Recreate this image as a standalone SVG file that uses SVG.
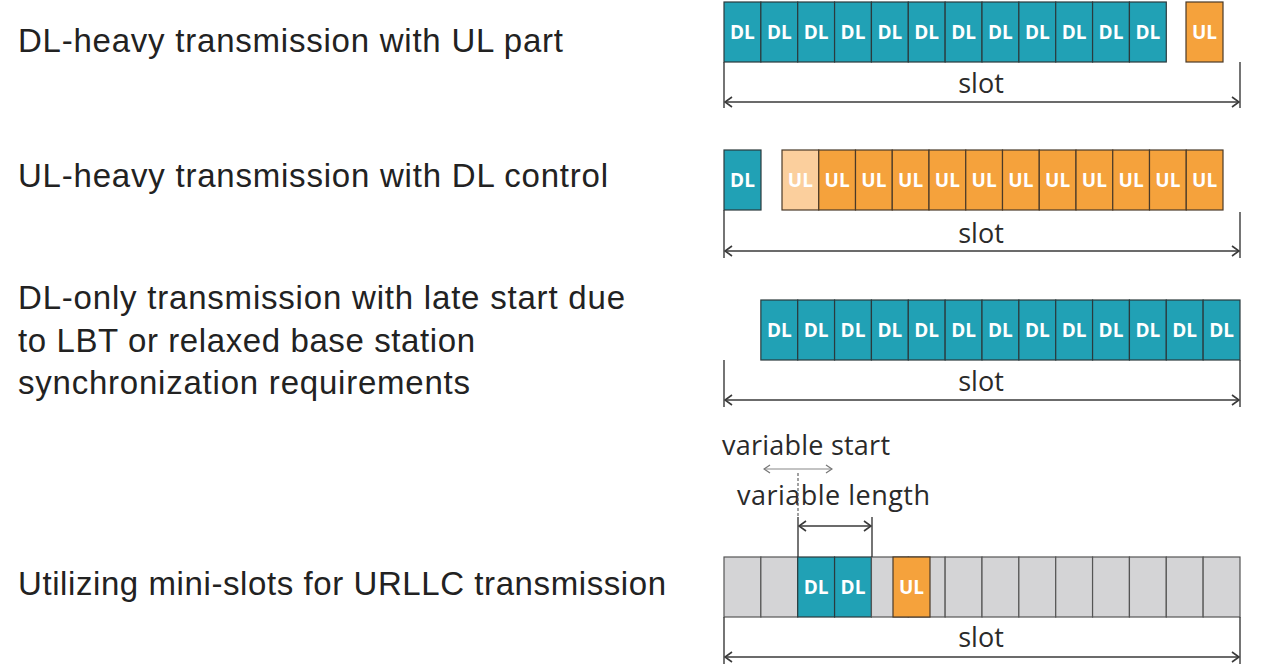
<svg xmlns="http://www.w3.org/2000/svg" width="1272" height="672" viewBox="0 0 1272 672">
<style>
.dl{fill:#21a1b5;stroke:#2b3a3d;stroke-width:1.2}
.ul{fill:#f5a23c;stroke:#4a3a28;stroke-width:1.2}
.ull{fill:#fbcf9d;stroke:#4a3a28;stroke-width:1.2}
.gr{fill:#d4d4d6;stroke:#555;stroke-width:1.2}
.lb{font-family:"Open Sans","Liberation Sans",sans-serif;font-weight:bold;font-size:19px;fill:#fff;text-anchor:middle}
.desc{font-family:"Liberation Sans","Open Sans",sans-serif;font-size:33px;fill:#222}
.ann{font-family:"Open Sans","Liberation Sans",sans-serif;font-size:27px;fill:#2a2a2a}
.slot{font-family:"Open Sans","Liberation Sans",sans-serif;font-size:27px;fill:#2a2a2a;text-anchor:middle}
.br{stroke:#3a3a3a;stroke-width:1.4;fill:none}
.tick{stroke:#3a3a3a;stroke-width:1.4}
.thin{stroke:#888;stroke-width:1.1;fill:none}
</style>
<defs>
<marker id="ah" viewBox="-9 -6 10 12" markerWidth="10" markerHeight="12" refX="0" refY="0" orient="auto-start-reverse" markerUnits="userSpaceOnUse">
<path d="M-7,-5 L0,0 L-7,5" fill="none" stroke="#3a3a3a" stroke-width="1.6"/>
</marker>
<marker id="ahs" viewBox="-9 -6 10 12" markerWidth="10" markerHeight="12" refX="0" refY="0" orient="auto-start-reverse" markerUnits="userSpaceOnUse">
<path d="M-6,-4 L0,0 L-6,4" fill="none" stroke="#777" stroke-width="1.3"/>
</marker>
</defs>
<rect width="1272" height="672" fill="#fff"/>

<g id="labels">
<text class="desc" x="18" y="52" textLength="545" lengthAdjust="spacing">DL-heavy transmission with UL part</text>
<text class="desc" x="18" y="187" textLength="590" lengthAdjust="spacing">UL-heavy transmission with DL control</text>
<text class="desc" x="18" y="309" textLength="607" lengthAdjust="spacing">DL-only transmission with late start due</text>
<text class="desc" x="18" y="352" textLength="457" lengthAdjust="spacing">to LBT or relaxed base station</text>
<text class="desc" x="18" y="394" textLength="452" lengthAdjust="spacing">synchronization requirements</text>
<text class="desc" x="18" y="595" textLength="648" lengthAdjust="spacing">Utilizing mini-slots for URLLC transmission</text>
</g>

<g id="row1">
<rect class="dl" x="724" y="2" width="36.86" height="60"/><text class="lb" x="742.4" y="39">DL</text>
<rect class="dl" x="760.86" y="2" width="36.86" height="60"/><text class="lb" x="779.3" y="39">DL</text>
<rect class="dl" x="797.71" y="2" width="36.86" height="60"/><text class="lb" x="816.1" y="39">DL</text>
<rect class="dl" x="834.57" y="2" width="36.86" height="60"/><text class="lb" x="853" y="39">DL</text>
<rect class="dl" x="871.43" y="2" width="36.86" height="60"/><text class="lb" x="889.9" y="39">DL</text>
<rect class="dl" x="908.29" y="2" width="36.86" height="60"/><text class="lb" x="926.7" y="39">DL</text>
<rect class="dl" x="945.14" y="2" width="36.86" height="60"/><text class="lb" x="963.6" y="39">DL</text>
<rect class="dl" x="982" y="2" width="36.86" height="60"/><text class="lb" x="1000.4" y="39">DL</text>
<rect class="dl" x="1018.86" y="2" width="36.86" height="60"/><text class="lb" x="1037.3" y="39">DL</text>
<rect class="dl" x="1055.71" y="2" width="36.86" height="60"/><text class="lb" x="1074.1" y="39">DL</text>
<rect class="dl" x="1092.57" y="2" width="36.86" height="60"/><text class="lb" x="1111" y="39">DL</text>
<rect class="dl" x="1129.43" y="2" width="36.86" height="60"/><text class="lb" x="1147.9" y="39">DL</text>
<rect class="ul" x="1186" y="2" width="37" height="60"/><text class="lb" x="1204.5" y="39">UL</text>
<text class="slot" x="981" y="93">slot</text>
</g>

<g id="row2">
<rect class="dl" x="724" y="150" width="37" height="60"/><text class="lb" x="742.5" y="187">DL</text>
<rect class="ull" x="782" y="150" width="36.75" height="60"/><text class="lb" x="800.4" y="187">UL</text>
<rect class="ul" x="818.75" y="150" width="36.75" height="60"/><text class="lb" x="837.1" y="187">UL</text>
<rect class="ul" x="855.5" y="150" width="36.75" height="60"/><text class="lb" x="873.9" y="187">UL</text>
<rect class="ul" x="892.25" y="150" width="36.75" height="60"/><text class="lb" x="910.6" y="187">UL</text>
<rect class="ul" x="929" y="150" width="36.75" height="60"/><text class="lb" x="947.4" y="187">UL</text>
<rect class="ul" x="965.75" y="150" width="36.75" height="60"/><text class="lb" x="984.1" y="187">UL</text>
<rect class="ul" x="1002.5" y="150" width="36.75" height="60"/><text class="lb" x="1020.9" y="187">UL</text>
<rect class="ul" x="1039.25" y="150" width="36.75" height="60"/><text class="lb" x="1057.6" y="187">UL</text>
<rect class="ul" x="1076" y="150" width="36.75" height="60"/><text class="lb" x="1094.4" y="187">UL</text>
<rect class="ul" x="1112.75" y="150" width="36.75" height="60"/><text class="lb" x="1131.1" y="187">UL</text>
<rect class="ul" x="1149.5" y="150" width="36.75" height="60"/><text class="lb" x="1167.9" y="187">UL</text>
<rect class="ul" x="1186.25" y="150" width="36.75" height="60"/><text class="lb" x="1204.6" y="187">UL</text>
<text class="slot" x="981" y="243">slot</text>
</g>

<g id="row3">
<rect class="dl" x="760.86" y="300" width="36.86" height="60"/><text class="lb" x="779.3" y="337">DL</text>
<rect class="dl" x="797.71" y="300" width="36.86" height="60"/><text class="lb" x="816.1" y="337">DL</text>
<rect class="dl" x="834.57" y="300" width="36.86" height="60"/><text class="lb" x="853" y="337">DL</text>
<rect class="dl" x="871.43" y="300" width="36.86" height="60"/><text class="lb" x="889.9" y="337">DL</text>
<rect class="dl" x="908.29" y="300" width="36.86" height="60"/><text class="lb" x="926.7" y="337">DL</text>
<rect class="dl" x="945.14" y="300" width="36.86" height="60"/><text class="lb" x="963.6" y="337">DL</text>
<rect class="dl" x="982" y="300" width="36.86" height="60"/><text class="lb" x="1000.4" y="337">DL</text>
<rect class="dl" x="1018.86" y="300" width="36.86" height="60"/><text class="lb" x="1037.3" y="337">DL</text>
<rect class="dl" x="1055.71" y="300" width="36.86" height="60"/><text class="lb" x="1074.1" y="337">DL</text>
<rect class="dl" x="1092.57" y="300" width="36.86" height="60"/><text class="lb" x="1111" y="337">DL</text>
<rect class="dl" x="1129.43" y="300" width="36.86" height="60"/><text class="lb" x="1147.9" y="337">DL</text>
<rect class="dl" x="1166.29" y="300" width="36.86" height="60"/><text class="lb" x="1184.7" y="337">DL</text>
<rect class="dl" x="1203.14" y="300" width="36.86" height="60"/><text class="lb" x="1221.6" y="337">DL</text>
<text class="slot" x="981" y="391">slot</text>
</g>

<g id="row4">
<rect class="gr" x="724" y="557" width="36.86" height="60"/>
<rect class="gr" x="760.86" y="557" width="36.86" height="60"/>
<rect class="dl" x="797.71" y="557" width="36.86" height="60"/><text class="lb" x="816.1" y="594">DL</text>
<rect class="dl" x="834.57" y="557" width="36.86" height="60"/><text class="lb" x="853" y="594">DL</text>
<rect class="gr" x="871.43" y="557" width="36.86" height="60"/>
<rect class="gr" x="908.29" y="557" width="36.86" height="60"/>
<rect class="ul" x="893" y="557" width="37" height="60"/><text class="lb" x="911.5" y="594">UL</text>
<rect class="gr" x="945.14" y="557" width="36.86" height="60"/>
<rect class="gr" x="982" y="557" width="36.86" height="60"/>
<rect class="gr" x="1018.86" y="557" width="36.86" height="60"/>
<rect class="gr" x="1055.71" y="557" width="36.86" height="60"/>
<rect class="gr" x="1092.57" y="557" width="36.86" height="60"/>
<rect class="gr" x="1129.43" y="557" width="36.86" height="60"/>
<rect class="gr" x="1166.29" y="557" width="36.86" height="60"/>
<rect class="gr" x="1203.14" y="557" width="36.86" height="60"/>
<text class="ann" x="722" y="455" textLength="168" lengthAdjust="spacing">variable start</text>
<text class="ann" x="737" y="505" textLength="193" lengthAdjust="spacing">variable length</text>
<text class="slot" x="981" y="647">slot</text>
</g>

<g id="connectors">
<line class="tick" x1="724" y1="62" x2="724" y2="108"/>
<line class="tick" x1="1240" y1="62" x2="1240" y2="108"/>
<line class="br" x1="725" y1="102" x2="1239" y2="102" marker-start="url(#ah)" marker-end="url(#ah)"/>

<line class="tick" x1="724" y1="210" x2="724" y2="258"/>
<line class="tick" x1="1240" y1="212" x2="1240" y2="258"/>
<line class="br" x1="725" y1="251" x2="1239" y2="251" marker-start="url(#ah)" marker-end="url(#ah)"/>

<line class="tick" x1="724" y1="360" x2="724" y2="407"/>
<line class="tick" x1="1240" y1="360" x2="1240" y2="407"/>
<line class="br" x1="725" y1="400" x2="1239" y2="400" marker-start="url(#ah)" marker-end="url(#ah)"/>

<line class="tick" x1="724" y1="617" x2="724" y2="664"/>
<line class="tick" x1="1240" y1="617" x2="1240" y2="664"/>
<line class="br" x1="725" y1="657" x2="1239" y2="657" marker-start="url(#ah)" marker-end="url(#ah)"/>

<line class="thin" x1="764" y1="469" x2="832" y2="469" marker-start="url(#ahs)" marker-end="url(#ahs)"/>
<line x1="798" y1="473" x2="798" y2="517" stroke="#555" stroke-width="1.1" stroke-dasharray="3,2"/>
<line class="tick" x1="798" y1="517" x2="798" y2="557"/>
<line class="tick" x1="872" y1="517" x2="872" y2="557"/>
<line class="br" x1="799" y1="526" x2="871" y2="526" marker-start="url(#ah)" marker-end="url(#ah)"/>
</g>
</svg>
